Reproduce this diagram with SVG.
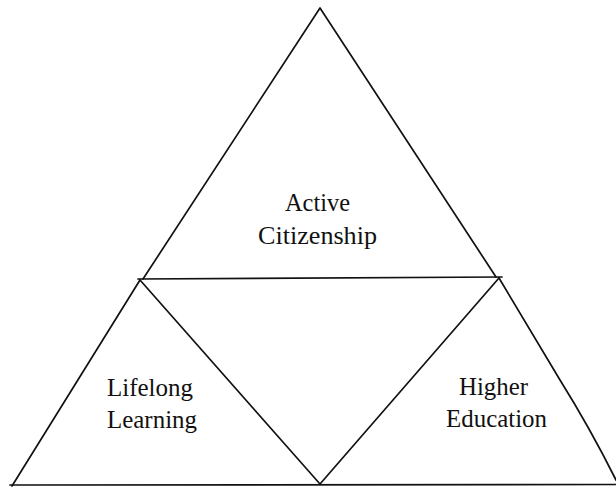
<svg xmlns="http://www.w3.org/2000/svg" width="616" height="487" viewBox="0 0 616 487">
  <style>
    .edge { fill: none; stroke: #111; stroke-width: 1.7; stroke-linecap: round; stroke-linejoin: round; }
    .lbl { font-family: "Liberation Serif", "Times New Roman", serif; font-size: 25px; fill: #111; text-anchor: start; }
  </style>
  <rect width="616" height="487" fill="#ffffff"/>
  <g id="connectors">
    <!-- upper triangle -->
    <path class="edge" d="M 143 279 L 320 8 L 496 277"/>
    <path class="edge" d="M 138 279 L 502 277"/>
    <!-- lower left triangle -->
    <path class="edge" d="M 140 280 L 12 486"/>
    <path class="edge" d="M 140 280 L 320 484"/>
    <!-- lower right triangle -->
    <path class="edge" d="M 499 278 L 320 484"/>
    <path class="edge" d="M 499 278 C 530 330, 545 355, 560 380 C 580 412, 600 448, 616 480"/>
    <!-- base -->
    <path class="edge" d="M 10 485 L 616 484.5"/>
  </g>
  <g id="active-citizenship">
    <text class="lbl" x="285" y="211" textLength="65" lengthAdjust="spacingAndGlyphs">Active</text>
    <text class="lbl" x="258" y="244" textLength="119" lengthAdjust="spacingAndGlyphs">Citizenship</text>
  </g>
  <g id="lifelong-learning">
    <text class="lbl" x="107" y="396" textLength="86" lengthAdjust="spacingAndGlyphs">Lifelong</text>
    <text class="lbl" x="107" y="428" textLength="90" lengthAdjust="spacingAndGlyphs">Learning</text>
  </g>
  <g id="higher-education">
    <text class="lbl" x="459" y="395" textLength="69" lengthAdjust="spacingAndGlyphs">Higher</text>
    <text class="lbl" x="446" y="427" textLength="101" lengthAdjust="spacingAndGlyphs">Education</text>
  </g>
</svg>
